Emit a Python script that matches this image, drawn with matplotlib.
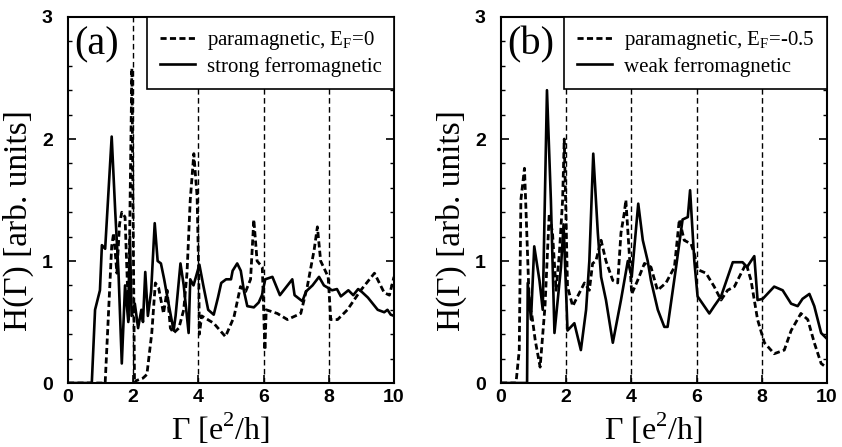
import matplotlib
matplotlib.use("Agg")
import matplotlib.pyplot as plt
from matplotlib.ticker import MultipleLocator

# panel (a): strong ferromagnetic (solid)
xa_ferro = [0, 0.73, 0.83, 0.98, 1.04, 1.14, 1.34, 1.45, 1.55, 1.65, 1.75, 1.85, 1.9, 1.95,
            2.05, 2.15, 2.25, 2.3, 2.37, 2.45, 2.55, 2.66, 2.75, 2.85, 2.95, 3.05, 3.24, 3.3,
            3.45, 3.55, 3.7, 3.75, 3.85, 4.03, 4.15, 4.3, 4.47, 4.6, 4.7, 4.85, 5.0, 5.05,
            5.19, 5.3, 5.4, 5.5, 5.7, 5.85, 5.95, 6.05, 6.27, 6.5, 6.88, 6.95, 7.19, 7.3,
            7.5, 7.7, 7.85, 8.1, 8.25, 8.37, 8.6, 8.75, 8.9, 9.0, 9.2, 9.5, 9.7, 9.8, 9.9, 10.0]
ya_ferro = [0, 0, 0.6, 0.76, 1.13, 1.1, 2.02, 1.4, 0.9, 0.16, 0.8, 0.5, 1.2, 0.55,
            0.65, 0.45, 0.6, 0.5, 0.91, 0.55, 0.75, 1.31, 1.0, 0.98, 0.85, 0.7, 0.43, 0.55,
            0.98, 0.8, 0.41, 0.85, 0.8, 0.97, 0.8, 0.6, 0.56, 0.7, 0.82, 0.85, 0.85, 0.92,
            0.98, 0.92, 0.75, 0.63, 0.62, 0.66, 0.72, 0.85, 0.87, 0.72, 0.85, 0.72, 0.67, 0.75,
            0.8, 0.87, 0.8, 0.76, 0.77, 0.71, 0.76, 0.72, 0.77, 0.75, 0.7, 0.6, 0.58, 0.6, 0.56, 0.55]

# panel (a): paramagnetic, E_F=0 (dashed)
xa_para = [0, 1.14, 1.34, 1.4, 1.5, 1.58, 1.65, 1.75, 1.86, 1.9, 1.96, 2.04, 2.1, 2.3, 2.42,
           2.57, 2.68, 2.78, 2.93, 3.04, 3.14, 3.24, 3.4, 3.55, 3.65, 3.75, 3.86, 3.96, 4.01,
           4.03, 4.1, 4.47, 4.83, 5.09, 5.29, 5.45, 5.6, 5.7, 5.8, 5.96, 6.04, 6.08, 6.42,
           6.73, 7.14, 7.34, 7.55, 7.65, 7.75, 7.98, 8.06, 8.27, 8.57, 8.98, 9.4, 9.7, 9.86, 10.0]
ya_para = [0, 0, 1.12, 1.23, 0.9, 1.3, 1.4, 1.36, 0.52, 1.4, 2.58, 0, 0.02, 0.04, 0.07,
           0.41, 0.82, 0.78, 0.57, 0.76, 0.45, 0.41, 0.45, 0.6, 0.9, 1.5, 1.88, 1.53, 0.9,
           0.4, 0.55, 0.49, 0.38, 0.54, 0.79, 0.75, 0.85, 1.34, 1.0, 0.95, 0.27, 0.6, 0.57,
           0.52, 0.57, 0.79, 1.09, 1.28, 1.0, 0.87, 0.52, 0.52, 0.6, 0.76, 0.9, 0.74, 0.72, 0.87]

# panel (b): weak ferromagnetic (solid)
xb_ferro = [0, 0.8, 0.82, 0.92, 1.02, 1.18, 1.28, 1.41, 1.53, 1.64, 1.84, 1.92, 2.04, 2.25,
            2.45, 2.61, 2.71, 2.83, 2.97, 3.07, 3.22, 3.43, 3.68, 3.89, 4.01, 4.21, 4.35, 4.5,
            4.6, 4.81, 5.01, 5.11, 5.37, 5.57, 5.73, 5.8, 5.93, 6.03, 6.39, 6.54, 6.75, 7.11,
            7.41, 7.55, 7.62, 7.77, 7.87, 8.03, 8.38, 8.64, 8.9, 9.1, 9.25, 9.46, 9.61, 9.82, 9.97]
yb_ferro = [0, 0, 0.82, 0.52, 1.12, 0.84, 0.6, 2.4, 1.5, 0.41, 0.95, 1.3, 0.43, 0.49,
            0.27, 0.6, 1.0, 1.88, 1.23, 0.87, 0.68, 0.33, 0.68, 1.0, 0.87, 1.47, 1.17, 1.0,
            0.84, 0.6, 0.46, 0.46, 0.95, 1.34, 1.36, 1.58, 1.0, 0.71, 0.57, 0.63, 0.71, 0.99,
            0.99, 0.95, 0.98, 1.04, 0.68, 0.69, 0.79, 0.76, 0.65, 0.63, 0.69, 0.73, 0.63, 0.41, 0.37]

# panel (b): paramagnetic, E_F=-0.5 (dashed)
xb_para = [0, 0.46, 0.56, 0.61, 0.72, 0.77, 0.87, 0.94, 1.05, 1.2, 1.35, 1.48, 1.58, 1.69,
           1.79, 1.89, 1.94, 2.04, 2.2, 2.35, 2.56, 2.71, 2.81, 2.91, 3.07, 3.22, 3.43, 3.58,
           3.68, 3.78, 3.83, 3.94, 4.01, 4.19, 4.4, 4.6, 4.8, 5.06, 5.32, 5.47, 5.62, 5.83,
           5.93, 6.03, 6.29, 6.54, 6.75, 6.95, 7.16, 7.31, 7.52, 7.67, 7.87, 8.08, 8.38, 8.69,
           8.9, 9.2, 9.41, 9.61, 9.82, 9.97]
yb_para = [0, 0, 0.27, 1.5, 1.76, 1.39, 0.63, 0.57, 0.35, 0.13, 0.63, 1.39, 1.23, 0.76,
           1.06, 1.5, 2.0, 0.79, 0.63, 0.71, 0.82, 0.76, 0.98, 1.0, 1.17, 1.0, 0.84, 0.82,
           1.23, 1.39, 1.5, 1.04, 0.73, 0.84, 0.98, 0.95, 0.76, 0.82, 0.95, 1.34, 1.17, 1.14,
           1.06, 0.93, 0.9, 0.79, 0.68, 0.76, 0.79, 0.87, 0.98, 0.84, 0.52, 0.33, 0.24, 0.27,
           0.43, 0.57, 0.52, 0.33, 0.16, 0.13]

panels = [
    ("(a)", xa_para, ya_para, "paramagnetic, E$_\\mathregular{F}$=0",
     xa_ferro, ya_ferro, "strong ferromagnetic"),
    ("(b)", xb_para, yb_para, "paramagnetic, E$_\\mathregular{F}$=-0.5",
     xb_ferro, yb_ferro, "weak ferromagnetic"),
]
guide_x = [2, 4, 6, 8]

serif = "Liberation Serif"
sans = "Liberation Sans"

fig = plt.figure(figsize=(8.42, 4.47), dpi=100)
lefts = [68 / 842, 501 / 842]

for left, (tag, xp, yp, lp, xf, yf, lf) in zip(lefts, panels):
    ax = fig.add_axes([left, 64 / 447, 326 / 842, 366 / 447])
    for g in guide_x:
        ax.axvline(g, color="black", lw=1.0, ls=(0, (4, 2.5)), zorder=1)
    ax.plot(xp, yp, color="black", lw=2.0, ls=(0, (2.2, 1.2)), label=lp, zorder=2)
    ax.plot(xf, yf, color="black", lw=1.9, label=lf, zorder=2)

    ax.set_xlim(0, 10)
    ax.set_ylim(0, 3)
    ax.xaxis.set_major_locator(MultipleLocator(2))
    ax.yaxis.set_major_locator(MultipleLocator(1))
    ax.yaxis.set_minor_locator(MultipleLocator(0.2))
    ax.tick_params(axis="both", which="both", direction="in", right=True)
    ax.tick_params(which="major", length=6, width=1.2)
    ax.tick_params(which="minor", length=3, width=1.0)
    ax.tick_params(axis="x", which="major", top=False, pad=4)
    ax.tick_params(axis="y", which="major", pad=11)
    for lab in ax.get_xticklabels() + ax.get_yticklabels():
        lab.set_fontfamily(sans)
        lab.set_fontweight("bold")
        lab.set_fontsize(14)
    for sp in ax.spines.values():
        sp.set_linewidth(1.5)

    ax.set_xlabel("Γ [e$^\\mathregular{2}$/h]", fontfamily=serif, fontsize=23, va="baseline")
    ax.xaxis.set_label_coords(0.468, -0.156)
    ax.set_ylabel("H(Γ) [arb. units]", fontfamily=serif, fontsize=24)
    ax.yaxis.set_label_coords(-0.105, 0.443)
    ax.text(0.02, 0.975, tag, transform=ax.transAxes, ha="left", va="top",
            fontfamily=serif, fontsize=29)

    leg = ax.legend(loc="upper right", bbox_to_anchor=(1, 1), borderaxespad=0,
                    fancybox=False, framealpha=1, edgecolor="black",
                    prop={"family": serif, "size": 15}, handlelength=1.7,
                    handletextpad=0.55, labelspacing=0.2, borderpad=0.6)
    leg.get_frame().set_linewidth(1.2)
    leg.set_zorder(5)

fig.savefig("out.png", dpi=100)
